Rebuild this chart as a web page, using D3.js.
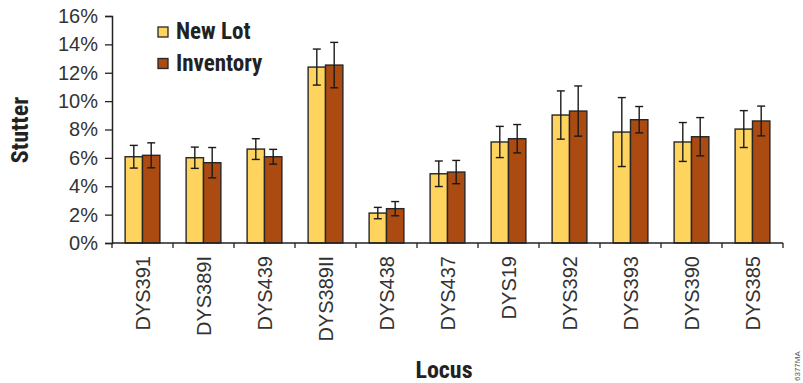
<!DOCTYPE html>
<html><head><meta charset="utf-8">
<script src="https://cdn.jsdelivr.net/npm/d3@7/dist/d3.min.js"></script>
<style>
body{margin:0;background:#fff;}
svg{display:block;}
.cond{font-family:"Liberation Sans Narrow","Arial Narrow","Roboto Condensed",sans-serif;font-weight:bold;font-stretch:condensed;}
</style></head>
<body><svg id="c" width="803" height="383"></svg>
<script>
const categories = ["DYS391","DYS389I","DYS439","DYS389II","DYS438","DYS437","DYS19","DYS392","DYS393","DYS390","DYS385"];
const seriesNames = ["New Lot","Inventory"];
const newLot      = [6.08, 6.01, 6.62, 12.40, 2.11, 4.88, 7.12, 9.02, 7.82, 7.12, 8.03];
const newLotErr   = [0.80, 0.75, 0.73, 1.27, 0.40, 0.90, 1.10, 1.70, 2.43, 1.37, 1.30];
const inventory   = [6.18, 5.66, 6.08, 12.54, 2.42, 5.00, 7.35, 9.30, 8.69, 7.49, 8.60];
const inventoryErr= [0.88, 1.07, 0.52, 1.60, 0.50, 0.82, 1.00, 1.77, 0.93, 1.35, 1.05];
const yTicks = [0,2,4,6,8,10,12,14,16];
const colors = ["#FED45F","#AB4B12"];

const svg = d3.select("#c");
const pl = 112, pr = 783, pt = 16, pb = 243;
const x = d3.scaleBand().domain(categories).range([pl, pr]).padding(0);
const y = d3.scaleLinear().domain([0,16]).range([pb, pt]);
const bw = x.bandwidth()*0.285;

// y axis
const yAxis = d3.axisLeft(y).tickValues(yTicks).tickSize(7).tickPadding(7).tickFormat(d => d + "%");
const gy = svg.append("g").attr("transform", `translate(${pl},0)`).call(yAxis);
gy.select(".domain").attr("stroke","#222").attr("stroke-width",1.5);
gy.selectAll(".tick line").attr("stroke","#222").attr("stroke-width",1.3);
gy.selectAll(".tick text").attr("font-family","Liberation Sans, Arial, sans-serif").attr("font-size",20).attr("fill","#333");

// bars
const data = [];
categories.forEach((c,i) => {
  data.push({c, s:0, v:newLot[i], e:newLotErr[i]});
  data.push({c, s:1, v:inventory[i], e:inventoryErr[i]});
});
const bx = d => x(d.c) + x.bandwidth()/2 - bw + d.s*bw;
svg.append("g").selectAll("rect").data(data).join("rect")
  .attr("x", bx).attr("width", bw)
  .attr("y", d => y(d.v)).attr("height", d => y(0)-y(d.v))
  .attr("fill", d => colors[d.s]).attr("stroke","#262626").attr("stroke-width",1.4);

// error bars
const eg = svg.append("g").attr("stroke","#1a1a1a").attr("stroke-width",1.4);
data.forEach(d => {
  const cx = bx(d) + bw/2;
  eg.append("line").attr("x1",cx).attr("x2",cx).attr("y1",y(d.v+d.e)).attr("y2",y(d.v-d.e));
  eg.append("line").attr("x1",cx-4).attr("x2",cx+4).attr("y1",y(d.v+d.e)).attr("y2",y(d.v+d.e));
  eg.append("line").attr("x1",cx-4).attr("x2",cx+4).attr("y1",y(d.v-d.e)).attr("y2",y(d.v-d.e));
});

// x axis
const gx = svg.append("g").attr("transform", `translate(0,${pb})`);
gx.append("line").attr("x1",pl).attr("x2",pr).attr("y1",0).attr("y2",0).attr("stroke","#222").attr("stroke-width",1.5);
const bounds = categories.map(c => x(c)).concat([pr]);
gx.selectAll("line.t").data(bounds).join("line").attr("class","t")
  .attr("x1",d=>d).attr("x2",d=>d).attr("y1",0).attr("y2",5).attr("stroke","#222").attr("stroke-width",1.3);
gx.selectAll("text").data(categories).join("text")
  .attr("transform", d => `translate(${x(d)+x.bandwidth()/2+7},13) rotate(-90)`)
  .attr("text-anchor","end")
  .attr("font-family","Liberation Sans, Arial, sans-serif").attr("font-size",20).attr("fill","#333")
  .text(d => d);

// axis titles
svg.append("text").attr("class","cond").attr("x",444).attr("y",378).attr("text-anchor","middle")
  .attr("font-size",24).attr("fill","#222").text("Locus");
svg.append("text").attr("class","cond").attr("transform","translate(28,130) rotate(-90)").attr("text-anchor","middle")
  .attr("font-size",24).attr("fill","#222").text("Stutter");

// legend
const lg = svg.append("g");
seriesNames.forEach((n,i) => {
  const yy = 27 + i*31.5;
  lg.append("rect").attr("x",158).attr("y",yy).attr("width",10).attr("height",10)
    .attr("fill",colors[i]).attr("stroke","#262626").attr("stroke-width",1.3);
  lg.append("text").attr("class","cond").attr("x",176).attr("y",yy+12).attr("font-size",23).attr("fill","#222").text(n);
});

// small code
svg.append("text").attr("transform","translate(800,381) rotate(-90)")
  .attr("font-family","Liberation Sans, Arial, sans-serif").attr("font-size",8).attr("fill","#555").text("6377MA");
</script></body></html>
